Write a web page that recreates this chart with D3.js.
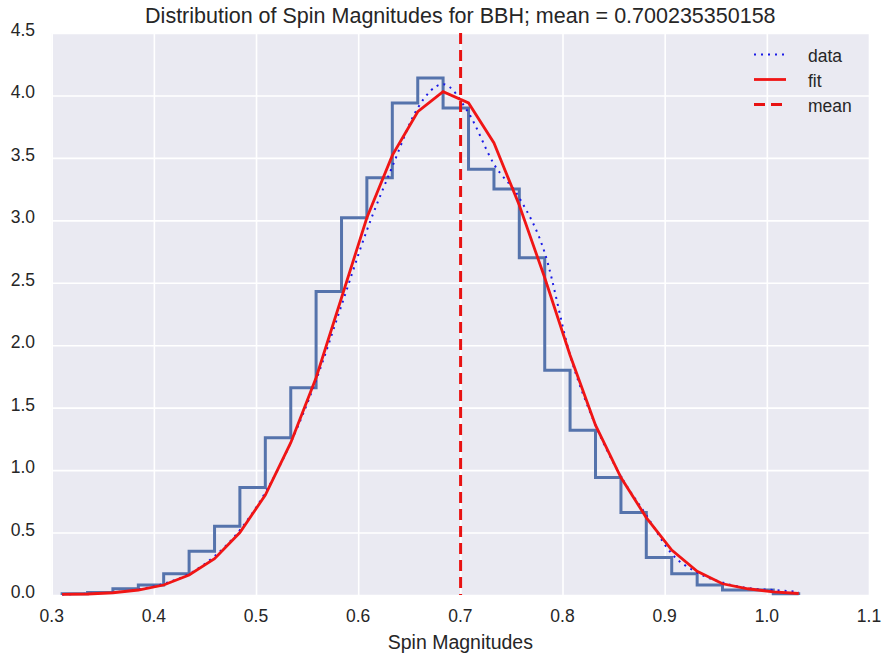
<!DOCTYPE html>
<html>
<head>
<meta charset="utf-8">
<script src="https://cdn.jsdelivr.net/npm/d3@7"></script>
<style>
  body { margin: 0; background: #fff; }
  text { font-family: "Liberation Sans", Arial, sans-serif; fill: #262626; }
</style>
</head>
<body>
<div id="chart-area"></div>
<script>
// values
var binEdges = [0.3102, 0.3351, 0.3599, 0.3848, 0.4096, 0.4345, 0.4594, 0.4842, 0.5091, 0.5340,
                0.5588, 0.5837, 0.6085, 0.6334, 0.6583, 0.6831, 0.7080, 0.7329, 0.7577, 0.7826,
                0.8074, 0.8323, 0.8572, 0.8820, 0.9069, 0.9318, 0.9566, 0.9815, 1.0063, 1.0312];
// normalised histogram heights, one per bin
var histDensity = [0.01, 0.02, 0.05, 0.08, 0.17, 0.35, 0.55, 0.86, 1.26, 1.66,
                   2.43, 3.02, 3.34, 3.94, 4.14, 3.90, 3.41, 3.25, 2.70, 1.80,
                   1.32, 0.94, 0.66, 0.30, 0.17, 0.08, 0.04, 0.04, 0.01];
// dotted "data" curve, at the bin edges
var dataCurve = [0.005, 0.01, 0.02, 0.045, 0.09, 0.17, 0.31, 0.52, 0.82, 1.22,
                 1.72, 2.32, 2.92, 3.43, 3.90, 4.09, 3.86, 3.45, 3.18, 2.74,
                 1.92, 1.36, 0.95, 0.64, 0.33, 0.18, 0.10, 0.055, 0.04, 0.025];
// red fit, at the bin edges
var fitCurve = [0.005, 0.008, 0.018, 0.04, 0.08, 0.16, 0.29, 0.50, 0.80, 1.22,
                1.74, 2.38, 3.02, 3.52, 3.87, 4.03, 3.94, 3.62, 3.12, 2.54,
                1.92, 1.36, 0.94, 0.62, 0.36, 0.19, 0.09, 0.05, 0.025, 0.012];
var meanSpin = 0.700235350158;
var xTicks = [0.3, 0.4, 0.5, 0.6, 0.7, 0.8, 0.9, 1.0, 1.1];
var yTicks = [0.0, 0.5, 1.0, 1.5, 2.0, 2.5, 3.0, 3.5, 4.0, 4.5];
var legendNames = ['data', 'fit', 'mean'];

var W = 883, H = 658;
// plot box (note: "top" is taken by window.top, so use other names)
var pLeft = 51.7, pRight = 869, pTop = 33, pBottom = 595;

var svg = d3.select('#chart-area').append('svg')
    .attr('width', W)
    .attr('height', H);

var x = d3.scaleLinear().domain([0.3, 1.1]).range([pLeft, pRight]);
var y = d3.scaleLinear().domain([0, 4.5]).range([pBottom, pTop]);

// background
svg.append('rect')
    .attr('x', pLeft).attr('y', pTop)
    .attr('width', pRight - pLeft).attr('height', pBottom - pTop)
    .attr('fill', '#EAEAF2');

// grid
svg.append('g').attr('transform', 'translate(0,' + pBottom + ')')
    .call(d3.axisBottom(x).tickValues(xTicks).tickSize(-(pBottom - pTop)).tickFormat(''))
    .call(g => g.select('.domain').remove())
    .call(g => g.selectAll('line').attr('stroke', '#fff').attr('stroke-width', 1.6));
svg.append('g').attr('transform', 'translate(' + pLeft + ',0)')
    .call(d3.axisLeft(y).tickValues(yTicks).tickSize(-(pRight - pLeft)).tickFormat(''))
    .call(g => g.select('.domain').remove())
    .call(g => g.selectAll('line').attr('stroke', '#fff').attr('stroke-width', 1.6));

// tick labels
svg.selectAll('.xlab').data(xTicks).enter().append('text')
    .attr('x', d => x(d)).attr('y', 622)
    .attr('text-anchor', 'middle')
    .attr('font-size', 17.5)
    .text(d => d.toFixed(1));
svg.selectAll('.ylab').data(yTicks).enter().append('text')
    .attr('x', 35).attr('y', d => y(d) + 3)
    .attr('text-anchor', 'end')
    .attr('font-size', 17.5)
    .text(d => d.toFixed(1));

// histogram as a step outline
var steps = [[binEdges[0], 0]];
histDensity.forEach((h, i) => {
    steps.push([binEdges[i], h]);
    steps.push([binEdges[i + 1], h]);
});
steps.push([binEdges[binEdges.length - 1], 0]);

var line = d3.line().x(d => x(d[0])).y(d => y(d[1]));
svg.append('path')
    .attr('d', line(steps))
    .attr('fill', 'none')
    .attr('stroke', '#5573AC')
    .attr('stroke-width', 3)
    .attr('stroke-linejoin', 'miter');

// dotted data line
svg.append('path')
    .attr('d', d3.line().curve(d3.curveMonotoneX)
        .x((d, i) => x(binEdges[i])).y(d => y(d))(dataCurve))
    .attr('fill', 'none')
    .attr('stroke', '#1a1ae6')
    .attr('stroke-width', 2)
    .attr('stroke-dasharray', '2,5');

// red fit
svg.append('path')
    .attr('d', d3.line().x((d, i) => x(binEdges[i])).y(d => y(d))(fitCurve))
    .attr('fill', 'none')
    .attr('stroke', '#f01515')
    .attr('stroke-width', 2.8);

// mean line
svg.append('line')
    .attr('x1', x(meanSpin)).attr('x2', x(meanSpin))
    .attr('y1', pTop).attr('y2', pBottom)
    .attr('stroke', '#e81212')
    .attr('stroke-width', 3)
    .attr('stroke-dasharray', '11,6');

// legend
var leg = svg.append('g');
legendNames.forEach((name, i) => {
    var ly = 54.5 + i * 25;
    var l = leg.append('line')
        .attr('x1', 754).attr('x2', 786)
        .attr('y1', ly).attr('y2', ly);
    if (name == 'data') {
        l.attr('stroke', '#1a1ae6').attr('stroke-width', 2).attr('stroke-dasharray', '2,5');
    } else if (name == 'fit') {
        l.attr('stroke', '#f01515').attr('stroke-width', 2.8);
    } else {
        l.attr('stroke', '#e81212').attr('stroke-width', 3).attr('stroke-dasharray', '11,6');
    }
    leg.append('text')
        .attr('x', 808).attr('y', ly + 7)
        .attr('font-size', 17.5)
        .text(name);
});

// title and axis label
svg.append('text')
    .attr('x', (pLeft + pRight) / 2).attr('y', 23)
    .attr('text-anchor', 'middle')
    .attr('font-size', 21.5)
    .text('Distribution of Spin Magnitudes for BBH; mean = ' + meanSpin);
svg.append('text')
    .attr('x', (pLeft + pRight) / 2).attr('y', 649)
    .attr('text-anchor', 'middle')
    .attr('font-size', 19.5)
    .text('Spin Magnitudes');
</script>
</body>
</html>
